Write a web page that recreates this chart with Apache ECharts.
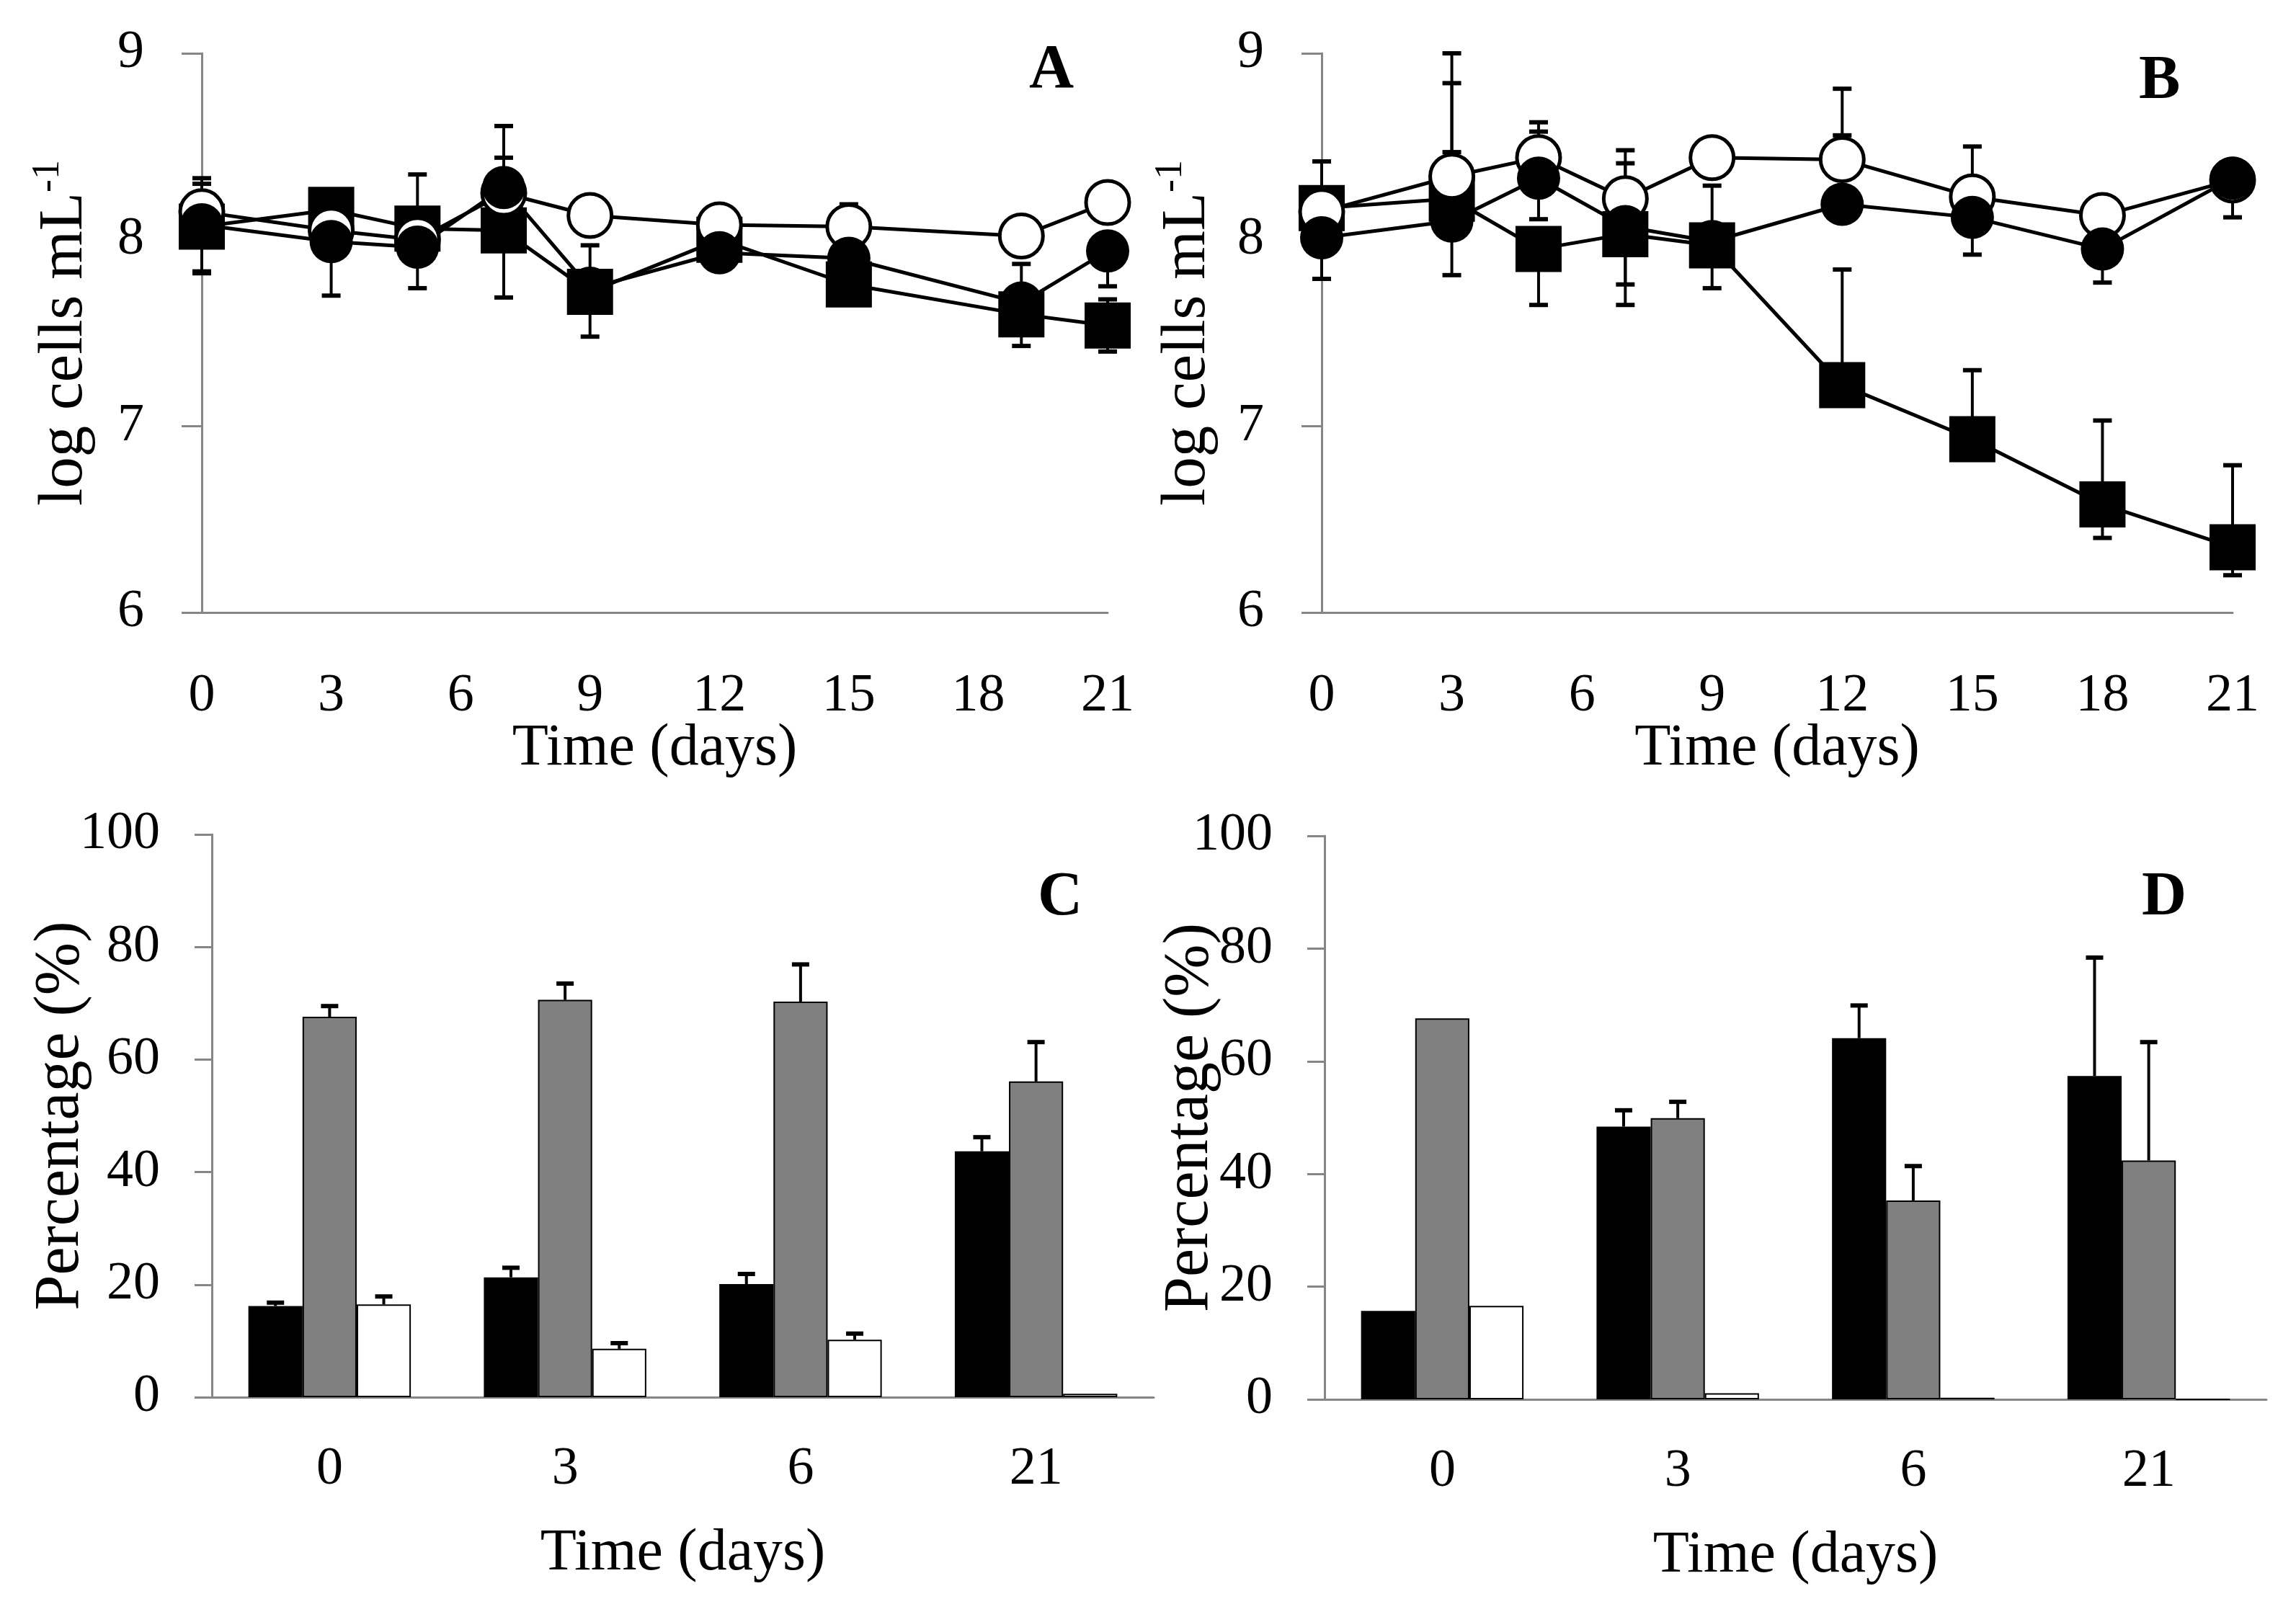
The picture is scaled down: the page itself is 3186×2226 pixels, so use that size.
<!DOCTYPE html>
<html>
<head>
<meta charset="utf-8">
<script src="https://cdn.jsdelivr.net/npm/echarts@6/dist/echarts.min.js"></script>
<style>
  html, body { margin: 0; padding: 0; background: #fff; }
  #main { width: 3186px; height: 2226px; }
</style>
</head>
<body>
<div id="main"></div>
<script>
// ---- panel A : log cells vs time ----
var daysA = [0, 3, 5, 7, 9, 12, 15, 19, 21];
var openA = [8.15, 8.05, 8.00, 8.25, 8.13, 8.08, 8.07, 8.02, 8.20];
var filledA = [8.08, 7.99, 7.96, 8.28, 7.74, 7.93, 7.90, 7.66, 7.94];
var squareA = [8.07, 8.16, 8.06, 8.05, 7.72, 8.00, 7.76, 7.60, 7.54];
var openA_up = [0, 0, 0, 0, 0, 0, 0.12, 0, 0];
var openA_dn = [0, 0, 0, 0, 0, 0, 0, 0, 0];
var filledA_up = [0.22, 0, 0, 0.33, 0, 0, 0, 0.21, 0];
var filledA_dn = [0.25, 0.29, 0, 0, 0, 0, 0, 0, 0.19];
var squareA_up = [0.26, 0, 0.29, 0.39, 0.25, 0, 0, 0, 0.14];
var squareA_dn = [0.25, 0, 0.32, 0.36, 0.24, 0, 0, 0.17, 0.14];

// ---- panel B ----
var daysB = [0, 3, 5, 7, 9, 12, 15, 18, 21];
var openB = [8.15, 8.34, 8.44, 8.22, 8.44, 8.43, 8.23, 8.13, 8.32];
var filledB = [8.01, 8.10, 8.33, 8.07, 7.99, 8.19, 8.12, 7.95, 8.33];
var squareB = [8.17, 8.22, 7.95, 8.03, 7.97, 7.22, 6.93, 6.58, 6.35];
var openB_up = [0, 0.66, 0.19, 0.26, 0, 0.38, 0.27, 0, 0];
var openB_dn = [0, 0, 0, 0, 0, 0, 0, 0, 0];
var filledB_up = [0, 0.37, 0.25, 0.34, 0, 0.37, 0, 0, 0];
var filledB_dn = [0.22, 0.29, 0.22, 0.31, 0, 0, 0.20, 0.18, 0.21];
var squareB_up = [0.25, 0.62, 0, 0, 0.32, 0.62, 0.37, 0.45, 0.44];
var squareB_dn = [0, 0, 0.30, 0.38, 0.23, 0, 0, 0.18, 0.15];

// ---- panels C and D : percentages ----
var catsCD = ['0', '3', '6', '21'];
var blackC = [16.2, 21.3, 20.1, 43.7];
var greyC = [67.6, 70.6, 70.3, 56.1];
var whiteC = [16.5, 8.6, 10.2, 0.6];
var blackC_err = [0.6, 1.7, 1.8, 2.5];
var greyC_err = [1.9, 2.9, 6.6, 7.0];
var whiteC_err = [1.4, 1.0, 1.1, 0];
var blackD = [15.7, 48.4, 64.1, 57.4];
var greyD = [67.6, 49.9, 35.3, 42.4];
var whiteD = [16.6, 1.1, 0.3, 0];
var blackD_err = [0, 2.9, 5.8, 21.0];
var greyD_err = [0, 2.9, 6.1, 21.0];
var whiteD_err = [0, 0, 0, 0];

var yTicksAB = [6, 7, 8, 9];
var yTicksCD = [0, 20, 40, 60, 80, 100];

var FONT = "'Liberation Serif', 'Times New Roman', serif";
var AXIS_COLOR = '#868686';

var chart = echarts.init(document.getElementById('main'), null, { renderer: 'canvas' });

function lineErr(axis, days, vals, up, dn) {
  return {
    type: 'custom',
    xAxisIndex: axis, yAxisIndex: axis,
    z: 1, silent: true,
    data: days.map(function (d, i) { return [d, vals[i], up[i], dn[i]]; }),
    encode: { x: 0, y: 1 },
    renderItem: function (params, api) {
      var x = api.value(0), y = api.value(1), u = api.value(2), w = api.value(3);
      if (!u && !w) return;
      var pt = api.coord([x, y + u]);
      var pb = api.coord([x, y - w]);
      var kids = [{
        type: 'line',
        shape: { x1: pt[0], y1: pt[1], x2: pt[0], y2: pb[1] },
        style: { stroke: '#000', lineWidth: 4 }
      }];
      if (u > 0) kids.push({ type: 'line', shape: { x1: pt[0] - 13, y1: pt[1], x2: pt[0] + 13, y2: pt[1] }, style: { stroke: '#000', lineWidth: 6 } });
      if (w > 0) kids.push({ type: 'line', shape: { x1: pb[0] - 13, y1: pb[1], x2: pb[0] + 13, y2: pb[1] }, style: { stroke: '#000', lineWidth: 6 } });
      return { type: 'group', children: kids };
    }
  };
}

function lineSeries(axis, days, vals, kind) {
  var isRect = kind === 'square';
  return {
    type: 'line',
    xAxisIndex: axis, yAxisIndex: axis,
    z: 2,
    data: days.map(function (d, i) { return [d, vals[i]]; }),
    symbol: isRect ? 'rect' : 'circle',
    symbolSize: isRect ? 64 : 60,
    showAllSymbol: true,
    lineStyle: { color: '#000', width: 5 },
    itemStyle: kind === 'open'
      ? { color: '#fff', borderColor: '#000', borderWidth: 5 }
      : { color: '#000', borderColor: '#000', borderWidth: 0 },
    silent: true
  };
}

var BAR_FRAC = 0.23;

function barSeries(axis, vals, color) {
  return {
    type: 'bar',
    xAxisIndex: axis, yAxisIndex: axis,
    data: vals,
    barWidth: (BAR_FRAC * 100) + '%',
    barGap: '0%',
    itemStyle: { color: color, borderColor: '#000', borderWidth: 2 },
    z: 2,
    silent: true
  };
}

function barErr(axis, vals, errs, slot) {
  return {
    type: 'custom',
    xAxisIndex: axis, yAxisIndex: axis,
    z: 1, silent: true,
    data: vals.map(function (v, i) { return [i, v, errs[i]]; }),
    encode: { x: 0, y: 1 },
    renderItem: function (params, api) {
      var e = api.value(2);
      if (!e) return;
      var bw = api.size([1, 0])[0] * BAR_FRAC;
      var p0 = api.coord([api.value(0), api.value(1)]);
      var p1 = api.coord([api.value(0), api.value(1) + e]);
      var cx = p0[0] + (slot - 1) * bw;
      return {
        type: 'group',
        children: [
          { type: 'line', shape: { x1: cx, y1: p0[1], x2: cx, y2: p1[1] }, style: { stroke: '#000', lineWidth: 4 } },
          { type: 'line', shape: { x1: cx - 12, y1: p1[1], x2: cx + 12, y2: p1[1] }, style: { stroke: '#000', lineWidth: 6 } }
        ]
      };
    }
  };
}

var axisLine = { show: true, lineStyle: { color: AXIS_COLOR, width: 3 } };
var labelStyle = { color: '#000', fontFamily: FONT, fontSize: 74 };
var timeStyle = { color: '#000', fontFamily: FONT, fontSize: 82 };

function valueX(grid) {
  return {
    type: 'value', gridIndex: grid, min: 0, max: 21, interval: 3,
    axisLine: axisLine, axisTick: { show: false }, splitLine: { show: false },
    axisLabel: Object.assign({ margin: 80 }, labelStyle),
    name: 'Time (days)', nameLocation: 'middle', nameGap: 148, nameTextStyle: timeStyle,
    nameMoveOverlap: false
  };
}

function logY(grid, gap) {
  return {
    type: 'value', gridIndex: grid, min: yTicksAB[0], max: yTicksAB[yTicksAB.length - 1], interval: 1,
    axisLine: axisLine,
    axisTick: { show: true, inside: false, length: 28, lineStyle: { color: AXIS_COLOR, width: 3 } },
    splitLine: { show: false },
    axisLabel: Object.assign({ margin: 80 }, labelStyle),
    name: '{a|log cells mL}{b|-1}', nameLocation: 'middle', nameGap: gap, nameRotate: 90,
    nameMoveOverlap: false,
    nameTextStyle: {
      color: '#000', fontFamily: FONT,
      rich: {
        a: { fontFamily: FONT, fontSize: 87, lineHeight: 100, color: '#000' },
        b: { fontFamily: FONT, fontSize: 54, lineHeight: 54, verticalAlign: 'top', color: '#000' }
      }
    }
  };
}

function catX(grid) {
  return {
    type: 'category', gridIndex: grid, data: catsCD,
    axisLine: axisLine, axisTick: { show: false }, splitLine: { show: false },
    axisLabel: Object.assign({ margin: 64 }, labelStyle),
    name: 'Time (days)', nameLocation: 'middle', nameGap: 176, nameTextStyle: timeStyle,
    nameMoveOverlap: false
  };
}

function pctY(grid, gap) {
  return {
    type: 'value', gridIndex: grid, min: yTicksCD[0], max: yTicksCD[yTicksCD.length - 1], interval: 20,
    axisLine: axisLine,
    axisTick: { show: true, inside: false, length: 24, lineStyle: { color: AXIS_COLOR, width: 3 } },
    splitLine: { show: false },
    axisLabel: Object.assign({ margin: 72 }, labelStyle),
    name: 'Percentage (%)', nameLocation: 'middle', nameGap: gap, nameRotate: 90,
    nameMoveOverlap: false,
    nameTextStyle: { color: '#000', fontFamily: FONT, fontSize: 88 }
  };
}

function letter(txt, x, y) {
  return {
    type: 'text', left: x - 40, top: y - 48,
    style: { text: txt, font: 'bold 86px ' + FONT, fill: '#000' }
  };
}

var option = {
  backgroundColor: '#fff',
  animation: false,
  grid: [
    { left: 280, top: 74, width: 1257, height: 776 },
    { left: 1834, top: 74, width: 1264, height: 776 },
    { left: 294, top: 1158, width: 1307, height: 781 },
    { left: 1838, top: 1160, width: 1307, height: 782 }
  ],
  xAxis: [valueX(0), valueX(1), catX(2), catX(3)],
  yAxis: [logY(0, 140), logY(1, 136), pctY(2, 165), pctY(3, 142)],
  graphic: [
    letter('A', 1468, 104),
    letter('B', 3008, 119),
    letter('C', 1480, 1252),
    letter('D', 3012, 1252)
  ],
  series: [
    lineErr(0, daysA, squareA, squareA_up, squareA_dn),
    lineErr(0, daysA, openA, openA_up, openA_dn),
    lineErr(0, daysA, filledA, filledA_up, filledA_dn),
    lineSeries(0, daysA, squareA, 'square'),
    lineSeries(0, daysA, openA, 'open'),
    lineSeries(0, daysA, filledA, 'filled'),

    lineErr(1, daysB, squareB, squareB_up, squareB_dn),
    lineErr(1, daysB, openB, openB_up, openB_dn),
    lineErr(1, daysB, filledB, filledB_up, filledB_dn),
    lineSeries(1, daysB, squareB, 'square'),
    lineSeries(1, daysB, openB, 'open'),
    lineSeries(1, daysB, filledB, 'filled'),

    barSeries(2, blackC, '#000000'),
    barSeries(2, greyC, '#808080'),
    barSeries(2, whiteC, '#ffffff'),
    barErr(2, blackC, blackC_err, 0),
    barErr(2, greyC, greyC_err, 1),
    barErr(2, whiteC, whiteC_err, 2),

    barSeries(3, blackD, '#000000'),
    barSeries(3, greyD, '#808080'),
    barSeries(3, whiteD, '#ffffff'),
    barErr(3, blackD, blackD_err, 0),
    barErr(3, greyD, greyD_err, 1),
    barErr(3, whiteD, whiteD_err, 2)
  ]
};

chart.setOption(option);
</script>
</body>
</html>
